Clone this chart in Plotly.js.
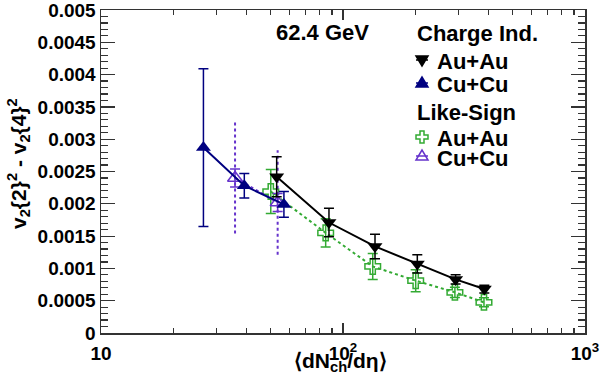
<!DOCTYPE html>
<html>
<head>
<meta charset="utf-8">
<script src="https://cdn.plot.ly/plotly-3.0.1.min.js"></script>
<style>html,body{margin:0;padding:0;background:#fff;}#chart{width:600px;height:390px;}</style>
</head>
<body>
<div id="chart"></div>
<script>
// ---- data ----
// Charge independent, Au+Au
const auauCiX = [53.2, 87.5, 135.6, 202.8, 292, 383.7];
const auauCiY = [0.00242, 0.00171, 0.00134, 0.00107, 0.00083, 0.00068];
const auauCiE = [0.00031, 0.00022, 0.00019, 0.00014, 0.00007, 0.00006];
// Charge independent, Cu+Cu
const cucuCiX = [26.5, 39.1, 57.0];
const cucuCiY = [0.00287, 0.00228, 0.00199];
const cucuCiE = [0.00122, 0.00019, 0.00020];
// Like-sign, Au+Au
const auauLsX = [50.3, 84.8, 132.7, 199.7, 290, 382.4];
const auauLsY = [0.00219, 0.00155, 0.00103, 0.00081, 0.00063, 0.000475];
const auauLsE = [0.00034, 0.00022, 0.00020, 0.00017, 0.00008, 0.00007];
// Like-sign, Cu+Cu (inner and outer/dotted errors)
const cucuLsX = [35.8, 53.7];
const cucuLsY = [0.0024, 0.00202];
const cucuLsE = [0.00014, 0.00014];
const cucuLsE2 = [0.00086, 0.00081];
// axis ticks
const xTickVals = [10, 100, 1000];
const xTickText = ['10', '10<sup>2</sup>', '10<sup>3</sup>'];
const yTickVals = [0, 0.0005, 0.001, 0.0015, 0.002, 0.0025, 0.003, 0.0035, 0.004, 0.0045, 0.005];
const yTickText = ['0', '0.0005', '0.001', '0.0015', '0.002', '0.0025', '0.003', '0.0035', '0.004', '0.0045', '0.005'];
const energyLabel = '62.4 GeV';
const legendHeaders = ['Charge Ind.', 'Like-Sign'];
const seriesNames = ['Au+Au', 'Cu+Cu', 'Au+Au', 'Cu+Cu'];

// ---- style ----
const BLACK = '#000000', NAVY = '#000080', GREEN = '#33aa33', PURPLE = '#6633cc';
const FONT = 'Liberation Sans, Arial, Helvetica, sans-serif';

// dotted outer error bars for Cu+Cu like-sign built from data
const dotX = [], dotY = [];
cucuLsX.forEach((x, i) => {
  dotX.push(x, x, null);
  dotY.push(cucuLsY[i] - cucuLsE2[i], cucuLsY[i] + cucuLsE2[i], null);
});

const traces = [
  {x: auauLsX, y: auauLsY, mode: 'lines+markers', name: seriesNames[2],
   line: {color: GREEN, width: 2, dash: 'dot'},
   marker: {symbol: 'cross-open', size: 13, color: GREEN, line: {width: 1.5, color: GREEN}},
   error_y: {type: 'data', array: auauLsE, visible: true, color: GREEN, thickness: 1.5, width: 5}},
  {x: dotX, y: dotY, mode: 'lines', showlegend: false, hoverinfo: 'skip',
   line: {color: PURPLE, width: 2, dash: 'dot'}},
  {x: cucuLsX, y: cucuLsY, mode: 'lines+markers', name: seriesNames[3],
   line: {color: PURPLE, width: 2, dash: 'dot'},
   marker: {symbol: 'triangle-up-open', size: 13, color: PURPLE, line: {width: 1.5, color: PURPLE}},
   error_y: {type: 'data', array: cucuLsE, visible: true, color: PURPLE, thickness: 1.5, width: 5}},
  {x: cucuCiX, y: cucuCiY, mode: 'lines+markers', name: seriesNames[1],
   line: {color: NAVY, width: 2},
   marker: {symbol: 'triangle-up', size: 13, color: NAVY},
   error_y: {type: 'data', array: cucuCiE, visible: true, color: NAVY, thickness: 1.5, width: 5}},
  {x: auauCiX, y: auauCiY, mode: 'lines+markers', name: seriesNames[0],
   line: {color: BLACK, width: 2},
   marker: {symbol: 'triangle-down', size: 13, color: BLACK},
   error_y: {type: 'data', array: auauCiE, visible: true, color: BLACK, thickness: 1.5, width: 5}}
];

// plot area in pixels: x 101..585, y 10..333
const L = 101, R = 585, T = 10, B = 333;
const px = v => (v - L) / (R - L);
const py = v => (B - v) / (B - T);

const bold = (size) => ({family: FONT, size: size, color: '#000', weight: 'bold'});

const annotations = [
  {text: energyLabel, x: px(322), y: py(32), xref: 'paper', yref: 'paper', showarrow: false,
   xanchor: 'center', yanchor: 'middle', font: bold(22)},
  {text: legendHeaders[0], x: px(415), y: py(34), xref: 'paper', yref: 'paper', showarrow: false,
   xanchor: 'left', yanchor: 'middle', font: bold(22)},
  {text: seriesNames[0], x: px(435), y: py(62), xref: 'paper', yref: 'paper', showarrow: false,
   xanchor: 'left', yanchor: 'middle', font: bold(22)},
  {text: seriesNames[1], x: px(435), y: py(84), xref: 'paper', yref: 'paper', showarrow: false,
   xanchor: 'left', yanchor: 'middle', font: bold(22)},
  {text: legendHeaders[1], x: px(415), y: py(112), xref: 'paper', yref: 'paper', showarrow: false,
   xanchor: 'left', yanchor: 'middle', font: bold(22)},
  {text: seriesNames[2], x: px(435), y: py(138), xref: 'paper', yref: 'paper', showarrow: false,
   xanchor: 'left', yanchor: 'middle', font: bold(22)},
  {text: seriesNames[3], x: px(435), y: py(158), xref: 'paper', yref: 'paper', showarrow: false,
   xanchor: 'left', yanchor: 'middle', font: bold(22)},
  {text: '\u27E8dN<sub>ch</sub>/d\u03B7\u27E9', x: px(340), y: py(362), xref: 'paper', yref: 'paper',
   showarrow: false, xanchor: 'center', yanchor: 'middle', font: bold(21)},
  {text: 'v<sub>2</sub>{2}<sup>2</sup> - v<sub>2</sub>{4}<sup>2</sup>', x: px(19), y: py(164),
   xref: 'paper', yref: 'paper', showarrow: false, textangle: -90,
   xanchor: 'center', yanchor: 'middle', font: bold(21)}
];

function glyph(cx, cy, path, color, fill) {
  return {type: 'path', xref: 'paper', yref: 'paper', xsizemode: 'pixel', ysizemode: 'pixel',
    xanchor: px(cx), yanchor: py(cy), path: path,
    line: {color: color, width: 1.5}, fillcolor: fill || 'rgba(0,0,0,0)'};
}
const GX = 422;
const shapes = [
  glyph(GX, 60, 'M-6,0 H6', BLACK),
  glyph(GX, 60, 'M-6,4 L6,4 L0,-6 Z', BLACK, BLACK),
  glyph(GX, 83, 'M-6,0 H6', NAVY),
  glyph(GX, 83, 'M-6,-4 L6,-4 L0,6 Z', NAVY, NAVY),
  glyph(GX, 137, 'M-2,6 H2 V2 H6 V-2 H2 V-6 H-2 V-2 H-6 V2 H-2 Z', GREEN),
  glyph(GX, 156, 'M-6,0 H6', PURPLE),
  glyph(GX, 156, 'M-6,-4 L6,-4 L0,6 Z', PURPLE)
];

const layout = {
  width: 600, height: 390,
  margin: {l: L, r: 600 - R, t: T, b: 390 - B, pad: 0},
  paper_bgcolor: '#fff', plot_bgcolor: '#fff',
  showlegend: false,
  xaxis: {
    type: 'log', range: [1, 3], tickmode: 'array', tickvals: xTickVals, ticktext: xTickText,
    ticks: 'inside', ticklen: 10, tickwidth: 1.2, tickcolor: '#333',
    showline: true, linecolor: '#333', linewidth: 1.5, mirror: 'allticks',
    showgrid: false, zeroline: false, automargin: false, ticklabeloverflow: 'allow',
    ticklabelstandoff: 3,
    tickfont: bold(19),
    minor: {ticks: 'inside', ticklen: 5, tickwidth: 1.2, tickcolor: '#333', dtick: 'D1', showgrid: false}
  },
  yaxis: {
    range: [0, 0.005], tickmode: 'array', tickvals: yTickVals, ticktext: yTickText,
    ticks: 'inside', ticklen: 14, tickwidth: 1.2, tickcolor: '#333',
    showline: true, linecolor: '#333', linewidth: 1.5, mirror: 'allticks',
    showgrid: false, zeroline: false, automargin: false, ticklabeloverflow: 'allow',
    tickfont: bold(19),
    minor: {ticks: 'inside', ticklen: 7, tickwidth: 1.2, tickcolor: '#333', dtick: 0.0001, tick0: 0, showgrid: false}
  },
  annotations: annotations,
  shapes: shapes
};

Plotly.newPlot('chart', traces, layout, {staticPlot: true, displayModeBar: false});
</script>
</body>
</html>
